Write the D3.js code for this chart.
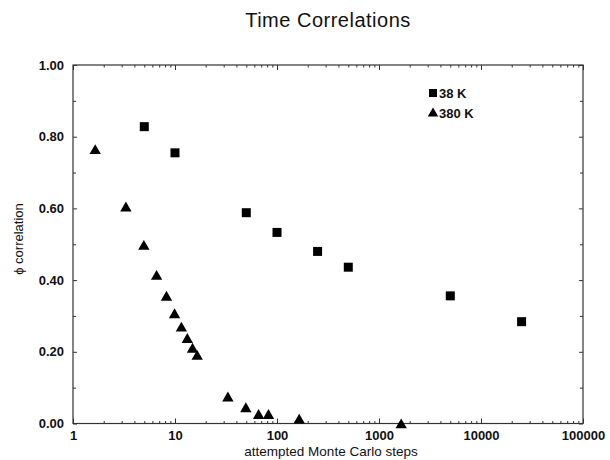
<!DOCTYPE html>
<html>
<head>
<meta charset="utf-8">
<script src="https://cdn.jsdelivr.net/npm/d3@7"></script>
<style>
  body { margin: 0; background: #fff; }
  text { font-family: "Liberation Sans", Arial, Helvetica, sans-serif; fill: #111; }
</style>
</head>
<body>
<div id="chart"></div>
<script>
// chart values
const steps38 = [5, 10, 50, 100, 250, 500, 5000, 25000];
const corr38 = [0.828, 0.755, 0.588, 0.533, 0.480, 0.436, 0.356, 0.284];

const steps380 = [1.65, 3.3, 4.95, 6.6, 8.25, 9.9, 11.55, 13.2, 14.85, 16.5, 33, 49.5, 66, 82.5, 165, 1650];
const corr380 = [0.765, 0.605, 0.498, 0.414, 0.356, 0.307, 0.270, 0.238, 0.211, 0.191, 0.075, 0.045, 0.026, 0.026, 0.013, 0.0];

const xTicks = [1, 10, 100, 1000, 10000, 100000];
const yTicks = [0, 0.2, 0.4, 0.6, 0.8, 1.0];
const legendLabels = ["38 K", "380 K"];

(function() {
    const width = 610
    const height = 460

    const svg = d3.select("#chart")
        .append("svg")
        .attr("width", width)
        .attr("height", height)

    const x = d3.scaleLog().domain([1, 100000]).range([73, 583])
    const y = d3.scaleLinear().domain([0, 1]).range([423.5, 65])

    // minor ticks: 2..9 in each decade, and the tenths on y
    const xMinor = []
    for (let d = 1; d < 100000; d *= 10) {
        for (let k = 2; k < 10; k++) xMinor.push(d * k)
    }
    const yMinor = d3.range(0.1, 1, 0.2)

    const axisColor = "#333"

    function styleAxis(g) {
        g.select(".domain").remove()
        g.selectAll("line").attr("stroke", axisColor).attr("stroke-width", 1)
    }

    // frame
    svg.append("rect")
        .attr("x", x.range()[0])
        .attr("y", y.range()[1])
        .attr("width", x.range()[1] - x.range()[0])
        .attr("height", y.range()[0] - y.range()[1])
        .attr("fill", "none")
        .attr("stroke", axisColor)
        .attr("stroke-width", 1.2)

    // bottom axis, ticks pointing inward
    svg.append("g")
        .attr("transform", `translate(0,${y(0)})`)
        .call(d3.axisBottom(x).tickValues(xTicks).tickSizeInner(-5).tickSizeOuter(0).tickPadding(7).tickFormat(d3.format("d")))
        .call(styleAxis)
        .call(g => g.selectAll("text")
            .style("font-size", "13px")
            .style("font-weight", "bold")
            .attr("fill", "#111"))

    svg.append("g")
        .attr("transform", `translate(0,${y(0)})`)
        .call(d3.axisBottom(x).tickValues(xMinor).tickSize(-2.5).tickFormat(""))
        .call(styleAxis)

    // top axis
    svg.append("g")
        .attr("transform", `translate(0,${y(1)})`)
        .call(d3.axisTop(x).tickValues(xTicks).tickSize(-5).tickFormat(""))
        .call(styleAxis)

    svg.append("g")
        .attr("transform", `translate(0,${y(1)})`)
        .call(d3.axisTop(x).tickValues(xMinor).tickSize(-2.5).tickFormat(""))
        .call(styleAxis)

    // left axis
    svg.append("g")
        .attr("transform", `translate(${x(1)},0)`)
        .call(d3.axisLeft(y).tickValues(yTicks).tickSizeInner(-4).tickSizeOuter(0).tickPadding(9).tickFormat(d3.format(".2f")))
        .call(styleAxis)
        .call(g => g.selectAll("text")
            .style("font-size", "13px")
            .style("font-weight", "bold")
            .attr("fill", "#111"))

    svg.append("g")
        .attr("transform", `translate(${x(1)},0)`)
        .call(d3.axisLeft(y).tickValues(yMinor).tickSize(-3).tickFormat(""))
        .call(styleAxis)

    // right axis
    svg.append("g")
        .attr("transform", `translate(${x(100000)},0)`)
        .call(d3.axisRight(y).tickValues(yTicks).tickSize(-4).tickFormat(""))
        .call(styleAxis)

    svg.append("g")
        .attr("transform", `translate(${x(100000)},0)`)
        .call(d3.axisRight(y).tickValues(yMinor).tickSize(-3).tickFormat(""))
        .call(styleAxis)

    // title
    svg.append("text")
        .attr("x", (x.range()[0] + x.range()[1]) / 2)
        .attr("y", 27)
        .attr("text-anchor", "middle")
        .style("font-size", "20px")
        .style("letter-spacing", "0.5px")
        .text("Time Correlations")

    // axis labels
    svg.append("text")
        .attr("x", 331)
        .attr("y", 456)
        .attr("text-anchor", "middle")
        .style("font-size", "13.5px")
        .text("attempted Monte Carlo steps")

    svg.append("text")
        .attr("transform", "translate(23,239) rotate(-90)")
        .attr("text-anchor", "middle")
        .style("font-size", "13px")
        .text("\u03d5 correlation")

    // data
    const d38 = steps38.map((s, i) => ({ s: s, c: corr38[i] }))
    const d380 = steps380.map((s, i) => ({ s: s, c: corr380[i] }))

    const square = d3.symbol().type(d3.symbolSquare).size(81)
    const triangle = d3.symbol().type(d3.symbolTriangle).size(56)

    svg.selectAll(".sq")
        .data(d38)
        .join("path")
        .attr("class", "sq")
        .attr("d", square)
        .attr("transform", d => `translate(${x(d.s)},${y(d.c)})`)
        .attr("fill", "#000")

    svg.selectAll(".tri")
        .data(d380)
        .join("path")
        .attr("class", "tri")
        .attr("d", triangle)
        .attr("transform", d => `translate(${x(d.s)},${y(d.c) + 1.5})`)
        .attr("fill", "#000")

    // legend
    const legend = svg.append("g").attr("transform", "translate(433,93)")
    legend.append("path")
        .attr("d", d3.symbol().type(d3.symbolSquare).size(64))
        .attr("fill", "#000")
    legend.append("path")
        .attr("d", d3.symbol().type(d3.symbolTriangle).size(48))
        .attr("transform", "translate(0,20.5)")
        .attr("fill", "#000")
    legend.selectAll("text")
        .data(legendLabels)
        .join("text")
        .attr("x", 6)
        .attr("y", (d, i) => 4.5 + i * 20)
        .style("font-size", "13px")
        .style("font-weight", "bold")
        .text(d => d)
})();
</script>
</body>
</html>
